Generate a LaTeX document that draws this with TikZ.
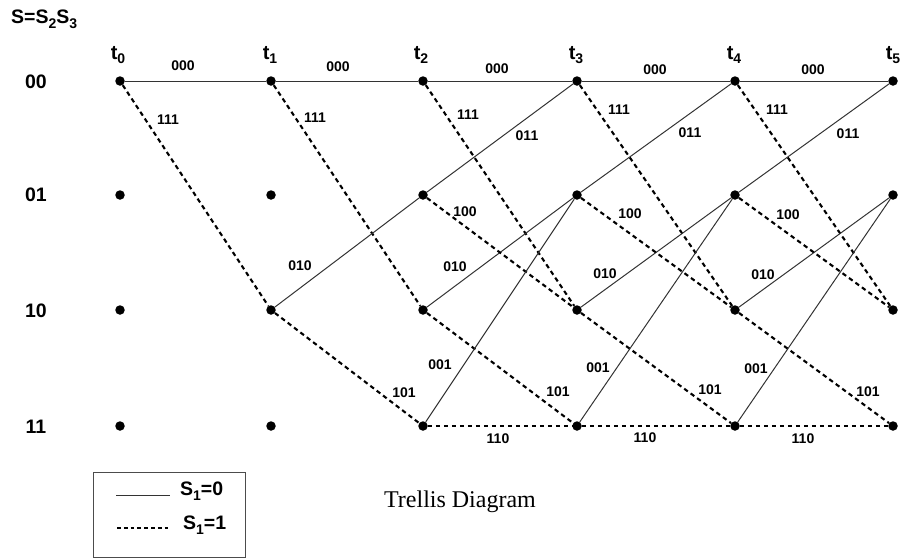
\documentclass[tikz,border=0pt]{standalone}
\usepackage{fontspec}
\setmainfont{Liberation Sans}
\newfontfamily\seriffont{Liberation Serif}
\newcommand{\lowsub}[2]{\raisebox{-0.45ex}{\fontsize{#1}{#1}\selectfont #2}}
\begin{document}
\begin{tikzpicture}[x=1pt,y=-1pt,
  dot/.style={circle,fill=black,inner sep=0pt,minimum size=9.5pt},
  zero/.style={draw=black!80,line width=1pt},
  one/.style={draw=black,line width=2.1pt,dash pattern=on 4.5pt off 3.5pt},
  lab/.style={font=\fontsize{14}{14}\selectfont\bfseries,inner sep=0pt},
  rowlab/.style={font=\fontsize{19.5}{19.5}\selectfont\bfseries,inner sep=0pt},
  tlab/.style={font=\fontsize{20}{20}\selectfont\bfseries,inner sep=0pt},
  legtext/.style={font=\fontsize{19.5}{19.5}\selectfont\bfseries,inner sep=0pt,anchor=west},
  legendbox/.style={draw=black!70,line width=0.9pt,inner sep=0pt,anchor=north west,minimum width=152pt,minimum height=85pt}]
\useasboundingbox (0,0) rectangle (902,558);
% title
\node[font=\fontsize{19.5}{19.5}\selectfont\bfseries,inner sep=0pt,anchor=west] (title) at (11,19) {S=S\lowsub{14}{2}S\lowsub{14}{3}};
% row labels
\foreach \r/\y in {00/82,01/195,10/311,11/427}
  \node[rowlab] (row\r) at (36,\y) {\r};
% time labels
\foreach \i/\x in {0/118,1/270,2/421,3/576,4/734,5/893}
  \node[tlab] (t\i) at (\x,55) {t\lowsub{14}{\i}};
% dots
\foreach \i/\x in {0/120,1/271,2/423,3/577,4/735,5/893}
  \foreach \r/\y in {00/81,01/195,10/310,11/426}
    \node[dot] (c\i\r) at (\x,\y) {};
% edges
\foreach \i/\j in {0/1,1/2,2/3,3/4,4/5}{
  \draw[zero] (c\i00) -- (c\j00);
  \draw[one] (c\i00) -- (c\j10);
}
\foreach \i/\j in {1/2,2/3,3/4,4/5}{
  \draw[zero] (c\i10) -- (c\j01);
  \draw[one] (c\i10) -- (c\j11);
}
\foreach \i/\j in {2/3,3/4,4/5}{
  \draw[zero] (c\i01) -- (c\j00);
  \draw[one] (c\i01) -- (c\j10);
  \draw[zero] (c\i11) -- (c\j01);
  \draw[one] (c\i11) -- (c\j11);
}
% branch labels
\foreach \x/\y [count=\k] in {183/66,338/67,497/69,655/70,813/70}
  \node[lab] (la\k) at (\x,\y) {000};
\foreach \x/\y [count=\k] in {168/120,315/118,468/115,619/110,777/110}
  \node[lab] (lb\k) at (\x,\y) {111};
\foreach \x/\y [count=\k] in {527/136,690/133,848/134}
  \node[lab] (lc\k) at (\x,\y) {011};
\foreach \x/\y [count=\k] in {465/212,630/214,788/215}
  \node[lab] (ld\k) at (\x,\y) {100};
\foreach \x/\y [count=\k] in {300/266,455/267,605/274,763/275}
  \node[lab] (le\k) at (\x,\y) {010};
\foreach \x/\y [count=\k] in {440/365,598/368,756/369}
  \node[lab] (lf\k) at (\x,\y) {001};
\foreach \x/\y [count=\k] in {404/393,558/392,710/390,868/392}
  \node[lab] (lg\k) at (\x,\y) {101};
\foreach \x/\y [count=\k] in {498/439,645/438,803/439}
  \node[lab] (lh\k) at (\x,\y) {110};
% legend
\node[legendbox] (legend) at (93,472) {};
\coordinate (s0a) at (116,495);
\coordinate (s0b) at (170,495);
\coordinate (s1a) at (117,528);
\coordinate (s1b) at (170,528);
\draw[draw=black!80,line width=1pt] (s0a) -- (s0b);
\draw[line width=1.6pt,dash pattern=on 3.8pt off 3pt] (s1a) -- (s1b);
\node[legtext] (leg0) at (180,491) {S\lowsub{14}{1}=0};
\node[legtext] (leg1) at (183,525) {S\lowsub{14}{1}=1};
% caption
\node[font=\fontsize{24}{24}\selectfont\seriffont,inner sep=0pt] (caption) at (460,502) {Trellis Diagram};
\end{tikzpicture}
\end{document}
